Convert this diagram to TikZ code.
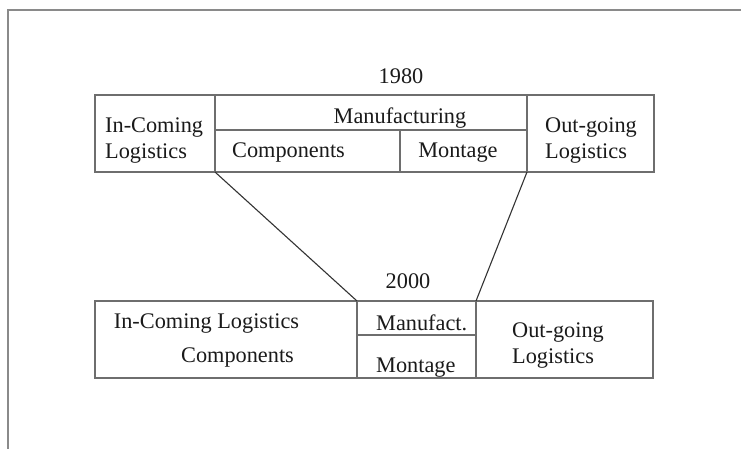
\documentclass[tikz,border=0pt]{standalone}
\usepackage{fontspec}
\setmainfont{Liberation Serif}
\definecolor{boxline}{HTML}{6E6E6E}
\definecolor{frameline}{HTML}{8A8A8A}
\definecolor{connline}{HTML}{333333}
\definecolor{txt}{HTML}{1A1A1A}
\begin{document}
\begin{tikzpicture}[x=1pt,y=-1pt,
  cell/.style={draw=boxline,line width=1.6pt,inner sep=0pt,outer sep=0pt},
  lbl/.style={inner sep=0pt,text=txt,font=\fontsize{22.3}{25}\selectfont},
  conn/.style={draw=connline,line width=1.1pt}]
\useasboundingbox[fill=white] (0,0) rectangle (741,448);
\draw[frameline,line width=2.2pt] (8,460) -- (8,10) -- (760,10);
% 1980 cells
\node[cell,minimum width=120pt,minimum height=77pt] (inc80) at (155,133.5) {};
\node[cell,minimum width=312pt,minimum height=35pt] (man80) at (371,112.5) {};
\node[cell,minimum width=185pt,minimum height=42pt] (comp80) at (307.5,151) {};
\node[cell,minimum width=127pt,minimum height=42pt] (mont80) at (463.5,151) {};
\node[cell,minimum width=127pt,minimum height=77pt] (out80) at (590.5,133.5) {};
% 2000 cells
\node[cell,minimum width=262pt,minimum height=77pt] (inc00) at (226,339.5) {};
\node[cell,minimum width=119pt,minimum height=34pt] (man00) at (416.5,318) {};
\node[cell,minimum width=119pt,minimum height=43pt] (mont00) at (416.5,356.5) {};
\node[cell,minimum width=177pt,minimum height=77pt] (out00) at (564.5,339.5) {};
% connectors
\draw[conn] (inc80.south east) -- (inc00.north east);
\draw[conn] (mont80.south east) -- (out00.north west);
% labels 1980
\node[lbl,anchor=base] (y80) at (401,83) {1980};
\node[lbl,anchor=base] (t1) at (400,123) {Manufacturing};
\node[lbl,anchor=base west] (t2) at (105,132) {In-Coming};
\node[lbl,anchor=base west] (t3) at (105,158) {Logistics};
\node[lbl,anchor=base] (t4) at (288.5,157) {Components};
\node[lbl,anchor=base] (t5) at (458,157) {Montage};
\node[lbl,anchor=base west] (t6) at (545,132) {Out-going};
\node[lbl,anchor=base west] (t7) at (545,158) {Logistics};
% labels 2000
\node[lbl,anchor=base] (y00) at (408,288) {2000};
\node[lbl,anchor=base] (u1) at (206.5,328) {In-Coming Logistics};
\node[lbl,anchor=base] (u2) at (237.5,362) {Components};
\node[lbl,anchor=base west] (u3) at (376,330) {Manufact.};
\node[lbl,anchor=base west] (u4) at (376,372) {Montage};
\node[lbl,anchor=base west] (u5) at (512,337) {Out-going};
\node[lbl,anchor=base west] (u6) at (512,363) {Logistics};
\end{tikzpicture}
\end{document}
